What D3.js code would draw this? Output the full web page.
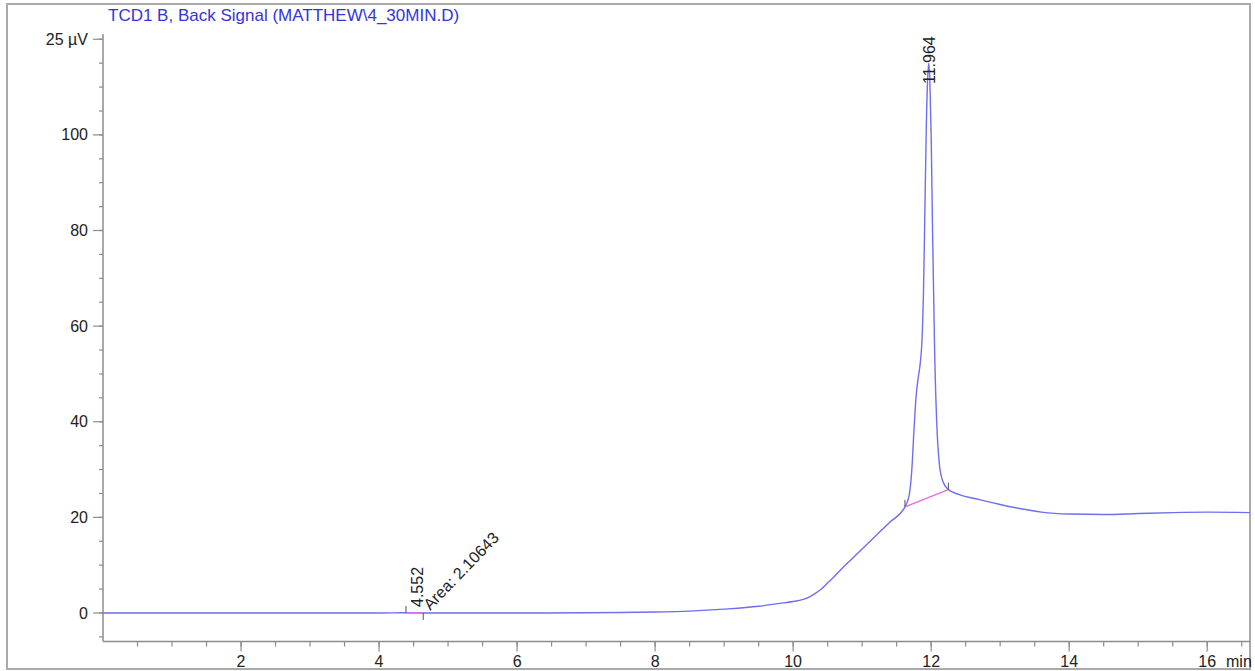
<!DOCTYPE html>
<html><head><meta charset="utf-8">
<script src="https://cdn.jsdelivr.net/npm/d3@7"></script>
<style>body{margin:0;background:#fff}svg{display:block}text{font-family:Arial,"Liberation Sans",sans-serif}</style>
</head><body>
<svg id="c" width="1255" height="671"></svg>
<script>
const title = "TCD1 B, Back Signal (MATTHEW\\4_30MIN.D)";
const timeMin = [0,1,2,3,4,4.4,4.6,5,6,7,7.5,8,8.5,9,9.5,9.8,10.0,10.2,10.3,10.4,10.5,10.6,10.7,10.85,11.0,11.2,11.4,11.62,11.68,11.72,11.75,11.78,11.81,11.84,11.87,11.89,11.91,11.93,11.95,11.964,11.98,12.0,12.02,12.05,12.08,12.12,12.17,12.25,12.4,12.7,13.0,13.3,13.6,14.0,14.5,15.0,15.5,16.0,16.62];
const signal = [0,0,0,0,0,0.05,0,0,0,0.05,0.1,0.2,0.4,0.8,1.4,2.0,2.4,3.1,3.9,4.9,6.3,7.7,9.2,11.3,13.4,16.2,19.0,22.2,24.5,30,38,45,49,52,58,68,85,102,112,115,112,100,80,55,40,31,27.5,25.8,24.8,23.7,22.7,21.8,21.1,20.7,20.6,20.8,21.0,21.1,21.0];
const yTickValues = [0,20,40,60,80,100,120];
const yTickLabels = ["0","20","40","60","80","100","25 µV"];
const xTickValues = [2,4,6,8,10,12,14,16];
const peaks = [
  {rt:"4.552", t:4.552, start:[4.39,0], end:[4.64,0], area:"Area: 2.10643"},
  {rt:"11.964", t:11.964, start:[11.62,22.2], end:[12.25,25.8], area:null}
];

const svg = d3.select("#c");
const x = d3.scaleLinear().domain([0,16.62]).range([103,1250]);
const y = d3.scaleLinear().domain([-5.9,121.1]).range([641.2,34]);
const axisCol = "#8c8c8c", textCol = "#222";

// frame
svg.append("rect").attr("x",7).attr("y",4).attr("width",1243).attr("height",665)
  .attr("fill","none").attr("stroke","#aaa").attr("stroke-width",2);

// title
svg.append("text").attr("x",108).attr("y",21).attr("fill","#3434dd")
  .style("font-size","17px").text(title);

// y axis
const yMinor = d3.range(-5,121,5);
const gy = svg.append("g").attr("transform","translate(103,0)");
gy.append("line").attr("x1",0).attr("x2",0).attr("y1",y.range()[1]).attr("y2",y.range()[0]).attr("stroke",axisCol).attr("stroke-width",1.5);
gy.selectAll(".ym").data(yMinor).join("line").attr("x1",-4).attr("x2",0).attr("y1",d=>y(d)).attr("y2",d=>y(d)).attr("stroke",axisCol).attr("stroke-width",1.2);
gy.selectAll(".yM").data(yTickValues).join("line").attr("x1",-10).attr("x2",0).attr("y1",d=>y(d)).attr("y2",d=>y(d)).attr("stroke",axisCol).attr("stroke-width",1.2);
gy.selectAll(".yl").data(yTickValues).join("text").attr("x",-15).attr("y",d=>y(d)).attr("dy","0.35em")
  .attr("text-anchor","end").attr("fill",textCol).style("font-size","16px").text((d,i)=>yTickLabels[i]);

// x axis
const xMinor = d3.range(0.5,16.6,0.5);
const gx = svg.append("g").attr("transform","translate(0,641.5)");
gx.append("line").attr("x1",x.range()[0]).attr("x2",x.range()[1]).attr("y1",0).attr("y2",0).attr("stroke",axisCol).attr("stroke-width",1.5);
gx.selectAll(".xm").data(xMinor).join("line").attr("x1",d=>x(d)).attr("x2",d=>x(d)).attr("y1",0).attr("y2",5).attr("stroke",axisCol).attr("stroke-width",1.2);
gx.selectAll(".xM").data(xTickValues).join("line").attr("x1",d=>x(d)).attr("x2",d=>x(d)).attr("y1",0).attr("y2",10).attr("stroke",axisCol).attr("stroke-width",1.2);
gx.selectAll(".xl").data(xTickValues).join("text").attr("x",d=>x(d)).attr("y",25).attr("text-anchor","middle")
  .attr("fill",textCol).style("font-size","16px").text(d=>d);
gx.append("text").attr("x",1226).attr("y",25).attr("fill",textCol).style("font-size","16px").text("min");

// trace
const data = timeMin.map((t,i)=>[t,signal[i]]);
svg.append("path").datum(data).attr("fill","none").attr("stroke","#6e6ef0").attr("stroke-width",1.4)
  .attr("d",d3.line().curve(d3.curveMonotoneX).x(d=>x(d[0])).y(d=>y(d[1])));

// peak baselines, markers
peaks.forEach(p=>{
  svg.append("line").attr("x1",x(p.start[0])).attr("y1",y(p.start[1])).attr("x2",x(p.end[0])).attr("y2",y(p.end[1]))
    .attr("stroke","#ee66dd").attr("stroke-width",1.3);
  svg.append("line").attr("x1",x(p.start[0])).attr("x2",x(p.start[0])).attr("y1",y(p.start[1])-7).attr("y2",y(p.start[1])).attr("stroke","#555").attr("stroke-width",1);
  svg.append("line").attr("x1",x(p.end[0])).attr("x2",x(p.end[0])).attr("y1",y(p.end[1])).attr("y2",y(p.end[1])+ (p.area?7:-7)).attr("stroke","#555").attr("stroke-width",1);
});
// retention time and area labels
svg.append("text").attr("transform",`translate(${x(4.552)+6},607) rotate(-90)`).attr("fill",textCol).style("font-size","16px").text(peaks[0].rt);
svg.append("text").attr("transform",`translate(${x(4.552)+13},611) rotate(-46)`).attr("fill",textCol).style("font-size","16px").text(peaks[0].area);
svg.append("text").attr("transform",`translate(${x(11.964)+6},84) rotate(-90)`).attr("fill",textCol).style("font-size","16px").text(peaks[1].rt);
</script>
</body></html>
